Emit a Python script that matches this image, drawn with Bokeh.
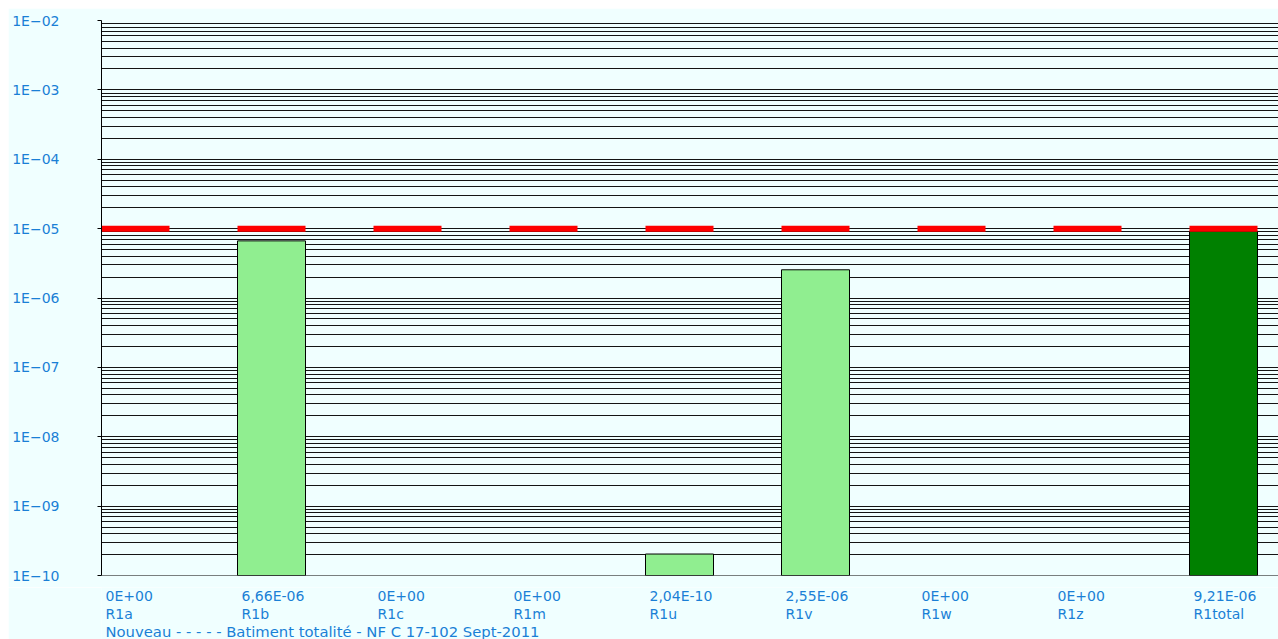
from bokeh.plotting import figure
from bokeh.layouts import column
from bokeh.models import FixedTicker, Range1d, ColumnDataSource, Span
from bokeh.core.properties import value
from bokeh.embed import file_html
from bokeh.resources import INLINE

# ---- data ----
categories = ["R1a", "R1b", "R1c", "R1m", "R1u", "R1v", "R1w", "R1z", "R1total"]
values = [0.0, 6.66e-06, 0.0, 0.0, 2.04e-10, 2.55e-06, 0.0, 0.0, 9.21e-06]
value_labels = ["0E+00", "6,66E-06", "0E+00", "0E+00", "2,04E-10", "2,55E-06", "0E+00", "0E+00", "9,21E-06"]
threshold = 1e-05
y_ticks = [1e-10, 1e-09, 1e-08, 1e-07, 1e-06, 1e-05, 1e-04, 1e-03, 1e-02]
y_tick_labels = ["1E\u221210", "1E\u221209", "1E\u221208", "1E\u221207", "1E\u221206",
                 "1E\u221205", "1E\u221204", "1E\u221203", "1E\u221202"]
footer = "Nouveau - - - - - Batiment totalit\u00e9 -  NF C 17-102 Sept-2011"

TEXT_BLUE = "#1a7fd6"
BG = "#F0FFFF"
FONT = "DejaVu Sans"
FS = "14px"

y_min, y_max = y_ticks[0], y_ticks[-1]
minor = [k * 10.0 ** e for e in range(-10, -2) for k in range(2, 10)]

W = 1270
LEFT = 93
TOP = 12
FRAME_H = 555
BOT = 12
BOTTOM_H = 639 - 8 - (TOP + FRAME_H + BOT)
x_end = (W - LEFT) / 136.0
x_range = Range1d(0, x_end)

p = figure(width=W, height=TOP + FRAME_H + BOT, output_backend="svg", toolbar_location=None,
           y_axis_type="log", x_range=x_range, y_range=Range1d(y_min, y_max),
           min_border_left=LEFT, min_border_top=TOP, min_border_bottom=BOT, min_border_right=0,
           background_fill_color=BG, border_fill_color=BG)
p.outline_line_color = None
p.xaxis.visible = False

# grid
p.yaxis.ticker = FixedTicker(ticks=y_ticks, minor_ticks=minor)
p.ygrid.grid_line_color = "#141414"
p.ygrid.minor_grid_line_color = "#141414"
p.xgrid.grid_line_color = None

# y axis
p.yaxis.major_label_overrides = {t: l for t, l in zip(y_ticks, y_tick_labels)}
p.yaxis.major_label_text_color = TEXT_BLUE
p.yaxis.major_label_text_font = FONT
p.yaxis.major_label_text_font_size = "14px"
p.yaxis.major_label_standoff = 38
p.yaxis.major_tick_out = 4
p.yaxis.major_tick_in = 0
p.yaxis.minor_tick_out = 0
p.yaxis.minor_tick_in = 0
p.yaxis.axis_line_color = "black"
p.yaxis.major_tick_line_color = "black"

# bars
idx = [i for i, v in enumerate(values) if v > 0]
bar_src = ColumnDataSource(dict(
    left=[i for i in idx],
    right=[i + 0.5 for i in idx],
    top=[values[i] for i in idx],
    bottom=[y_min for _ in idx],
    color=["#008000" if categories[i] == "R1total" else "#90EE90" for i in idx],
))
p.quad(left="left", right="right", top="top", bottom="bottom", source=bar_src,
       fill_color="color", line_color="black", line_width=1)

# threshold red marks
thr_src = ColumnDataSource(dict(
    x0=list(range(len(categories))),
    x1=[i + 0.5 for i in range(len(categories))],
    y=[threshold] * len(categories),
))
p.segment(x0="x0", x1="x1", y0="y", y1="y", source=thr_src, line_color="#FF0000",
          line_width=6, line_cap="butt")

# bottom frame line
p.add_layout(Span(location=y_min, dimension="width", line_color="black", line_width=1))

# ---- label strip under the plot (shares the x scale) ----
q = figure(width=W, height=BOTTOM_H, output_backend="svg", toolbar_location=None,
           x_range=x_range, y_range=Range1d(0, BOTTOM_H),
           min_border_left=LEFT, min_border_top=0, min_border_bottom=0, min_border_right=0,
           background_fill_color=BG, border_fill_color=BG)
q.outline_line_color = None
q.axis.visible = False
q.grid.visible = False

lab_src = ColumnDataSource(dict(
    x=list(range(len(categories))),
    yv=[44] * len(categories),
    yc=[26] * len(categories),
    val=value_labels,
    cat=categories,
))
common = dict(text_color=TEXT_BLUE, text_font=value(FONT),
              text_align="left", text_baseline="middle", x_offset=4)
q.text(x="x", y="yv", text="val", source=lab_src, text_font_size=FS, **common)
q.text(x="x", y="yc", text="cat", source=lab_src, text_font_size=FS, **common)
q.text(x=[0], y=[8], text=[footer], text_font_size="14.8px", **common)

layout = column(p, q, spacing=0)
layout.margin = (8, 0, 0, 8)

open("out.html", "w").write(file_html(layout, INLINE))
